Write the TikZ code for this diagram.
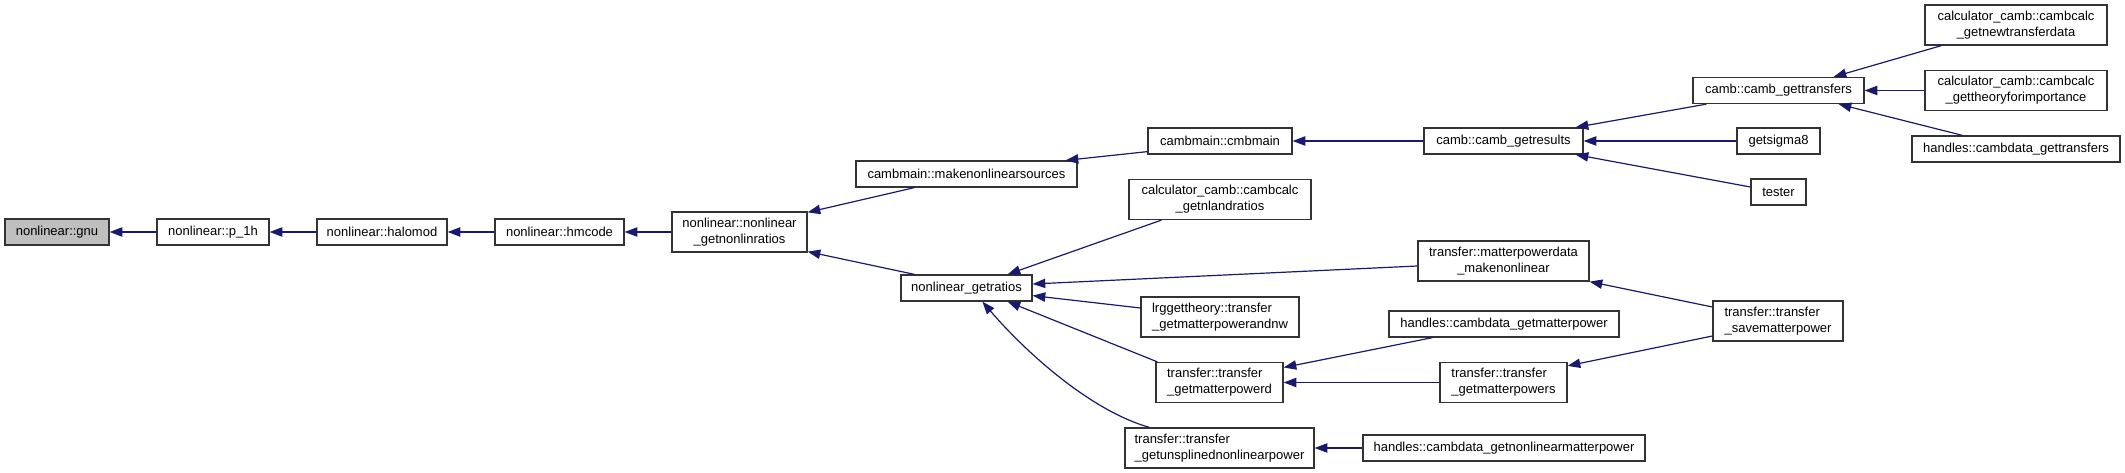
\documentclass[tikz,border=0pt]{standalone}
\usepackage{fontspec}
\setmainfont{Liberation Sans}
\usetikzlibrary{arrows.meta,calc}
\definecolor{edgeblue}{HTML}{191970}
\definecolor{boxline}{HTML}{333333}
\definecolor{hl}{HTML}{BFBFBF}
\newcommand{\fnt}{\fontsize{9.75}{11.8}\selectfont}
\tikzset{
  fn/.style={draw=boxline, line width=0.95pt, fill=white, inner sep=0pt, font=\fnt, align=center, minimum height=19.5pt},
  two/.style={minimum height=30pt},
  lft/.style={align=left},
  bw/.style={minimum width=#1*0.75pt},
  dep/.style={draw=edgeblue, line width=0.9pt, -{Triangle[length=9.5pt,width=7pt]}, color=edgeblue},
}
\begin{document}
\begin{tikzpicture}[x=0.75pt,y=-0.75pt]
\useasboundingbox (0,0) rectangle (2125,473);
% column 1
\node[fn,bw=104,fill=hl] (gnu) at (57,232) {nonlinear::gnu};
\node[fn,bw=112] (p1h) at (213,232) {nonlinear::p\_1h};
\node[fn,bw=130] (hal) at (382,232) {nonlinear::halomod};
\node[fn,bw=129] (hmc) at (559.5,232) {nonlinear::hmcode};
\node[fn,two,bw=135] (nlr) at (739.5,232) {nonlinear::nonlinear\\\_getnonlinratios};
% column 2
\node[fn,bw=221] (mks) at (966.5,174) {cambmain::makenonlinearsources};
\node[fn,bw=131] (gr) at (966.5,288) {nonlinear\_getratios};
% column 3
\node[fn,bw=144] (cmb) at (1220,141) {cambmain::cmbmain};
\node[fn,two,bw=182] (gnl) at (1220,199.5) {calculator\_camb::cambcalc\\\_getnlandratios};
\node[fn,two,lft,bw=158] (lrg) at (1220,317) {lrggettheory::transfer\\\_getmatterpowerandnw};
\node[fn,two,lft,bw=127] (gmpd) at (1219.5,382.5) {transfer::transfer\\\_getmatterpowerd};
\node[fn,two,lft,bw=189] (gun) at (1219.5,448) {transfer::transfer\\\_getunsplinednonlinearpower};
% column 4
\node[fn,bw=159] (gres) at (1503.5,141) {camb::camb\_getresults};
\node[fn,two,bw=171] (mpd) at (1503.5,261) {transfer::matterpowerdata\\\_makenonlinear};
\node[fn,bw=230] (cdgm) at (1504,324) {handles::cambdata\_getmatterpower};
\node[fn,two,lft,bw=127] (gmps) at (1503.5,382.5) {transfer::transfer\\\_getmatterpowers};
\node[fn,bw=282] (cdgnm) at (1504,448) {handles::cambdata\_getnonlinearmatterpower};
% column 5
\node[fn,bw=171] (gtr) at (1778.5,90.5) {camb::camb\_gettransfers};
\node[fn,bw=83] (sig) at (1778.5,141) {getsigma8};
\node[fn,bw=55] (tst) at (1778.5,192) {tester};
\node[fn,two,lft,bw=130] (svm) at (1778,321) {transfer::transfer\\\_savematterpower};
% column 6
\node[fn,two,bw=182] (gntd) at (2016,25) {calculator\_camb::cambcalc\\\_getnewtransferdata};
\node[fn,two,bw=182] (gtfi) at (2016,90.5) {calculator\_camb::cambcalc\\\_gettheoryforimportance};
\node[fn,bw=208] (cdgt) at (2016,149) {handles::cambdata\_gettransfers};
% edges (arrow at callee)
\draw[dep] (p1h.west) -- (gnu.east);
\draw[dep] (hal.west) -- (p1h.east);
\draw[dep] (hmc.west) -- (hal.east);
\draw[dep] (nlr.west) -- (hmc.east);
\draw[dep] ($(mks.south west)+(59,0)$) -- ($(nlr.north east)+(0,1)$);
\draw[dep] ($(gr.north west)+(14,0)$) -- ($(nlr.south east)+(0,-1)$);
\draw[dep] ($(cmb.south west)+(0,-3)$) -- ($(mks.north east)+(-12,0)$);
\draw[dep] (gres.west) -- (cmb.east);
\draw[dep] ($(gtr.south west)+(14,0)$) -- ($(gres.north east)+(-8,0)$);
\draw[dep] (sig.west) -- (gres.east);
\draw[dep] ($(tst.west)+(0,-5)$) -- ($(gres.south east)+(-8,0)$);
\draw[dep] ($(gntd.south west)+(17,0)$) -- ($(gtr.north east)+(-31,0)$);
\draw[dep] (gtfi.west) -- (gtr.east);
\draw[dep] ($(cdgt.north west)+(51,0)$) -- ($(gtr.south east)+(-26,0)$);
\draw[dep] ($(gnl.south west)+(33,0)$) -- ($(gr.north east)+(-25,0)$);
\draw[dep] ($(mpd.west)+(0,5)$) -- ($(gr.east)+(0,-4)$);
\draw[dep] ($(lrg.west)+(0,-9)$) -- ($(gr.south east)+(0,-6)$);
\draw[dep] ($(gmpd.north west)+(2,0)$) -- ($(gr.south east)+(-25,0)$);
\draw[dep] ($(gun.north west)+(25,0)$) .. controls ($(gun.north west)+(-35,-17)$) and ($(gr.south west)+(124,49)$) .. ($(gr.south west)+(82,0)$);
\draw[dep] ($(svm.west)+(0,-14)$) -- (mpd.south east);
\draw[dep] ($(cdgm.south west)+(44,0)$) -- ($(gmpd.east)+(0,-15)$);
\draw[dep] (gmps.west) -- (gmpd.east);
\draw[dep] ($(svm.west)+(0,15)$) -- ($(gmps.north east)+(0,4)$);
\draw[dep] (cdgnm.west) -- (gun.east);
\end{tikzpicture}
\end{document}
